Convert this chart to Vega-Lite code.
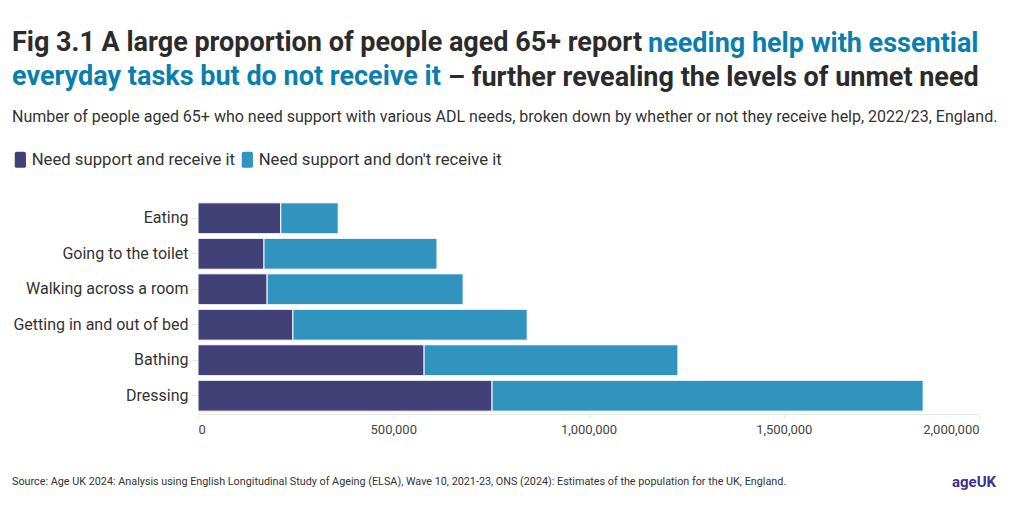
{
  "$schema": "https://vega.github.io/schema/vega-lite/v6.json",
  "background": "white",
  "padding": {"left": 12, "top": 29, "right": 6, "bottom": 5},
  "config": {
    "view": {"stroke": null},
    "font": "Roboto",
    "title": {"anchor": "start", "frame": "bounds"},
    "concat": {"spacing": 0}
  },
  "datasets": {
    "adl": [
      {"activity": "Eating", "status": "Need support and receive it", "value": 212000, "ord": 1},
      {"activity": "Eating", "status": "Need support and don't receive it", "value": 147000, "ord": 2},
      {"activity": "Going to the toilet", "status": "Need support and receive it", "value": 169000, "ord": 1},
      {"activity": "Going to the toilet", "status": "Need support and don't receive it", "value": 443000, "ord": 2},
      {"activity": "Walking across a room", "status": "Need support and receive it", "value": 177000, "ord": 1},
      {"activity": "Walking across a room", "status": "Need support and don't receive it", "value": 502000, "ord": 2},
      {"activity": "Getting in and out of bed", "status": "Need support and receive it", "value": 243000, "ord": 1},
      {"activity": "Getting in and out of bed", "status": "Need support and don't receive it", "value": 600000, "ord": 2},
      {"activity": "Bathing", "status": "Need support and receive it", "value": 579000, "ord": 1},
      {"activity": "Bathing", "status": "Need support and don't receive it", "value": 650000, "ord": 2},
      {"activity": "Dressing", "status": "Need support and receive it", "value": 753000, "ord": 1},
      {"activity": "Dressing", "status": "Need support and don't receive it", "value": 1104000, "ord": 2}
    ]
  },
  "bounds": "flush",
  "vconcat": [
    {"width": 1, "height": 0.01, "data": {"values": []}, "mark": "point",
     "title": {"text": "Fig 3.1 A large proportion of people aged 65+ report", "color": "#2b2b2b", "fontSize": 27, "fontWeight": "bold", "offset": 0, "dx": -186}},
    {"width": 1, "height": 33, "data": {"values": []}, "mark": "point",
     "title": {"text": "needing help with essential", "color": "#0a7fae", "fontSize": 27, "fontWeight": "bold", "offset": 0, "dx": 450}},
    {"width": 1, "height": 0.01, "data": {"values": []}, "mark": "point",
     "title": {"text": "everyday tasks but do not receive it", "color": "#0a7fae", "fontSize": 27, "fontWeight": "bold", "offset": 0, "dx": -186}},
    {"width": 1, "height": 108, "data": {"values": []}, "mark": "point",
     "title": {"text": "– further revealing the levels of unmet need", "color": "#2b2b2b", "fontSize": 27, "fontWeight": "bold", "offset": 0, "dx": 250}},
    {
      "width": 781,
      "height": 214,
      "data": {"name": "adl"},
      "title": {"text": "Number of people aged 65+ who need support with various ADL needs, broken down by whether or not they receive help, 2022/23, England.", "fontSize": 16, "fontWeight": "normal", "color": "#333333", "offset": 75, "dx": -186, "frame": "group"},
      "mark": {"type": "bar", "stroke": "white", "strokeWidth": 1},
      "encoding": {
        "y": {
          "field": "activity", "type": "nominal",
          "sort": ["Eating", "Going to the toilet", "Walking across a room", "Getting in and out of bed", "Bathing", "Dressing"],
          "scale": {"paddingInner": 0.13, "paddingOuter": 0.08},
          "axis": {"title": null, "domain": false, "ticks": true, "tickColor": "#e3e3e3", "tickSize": 6, "labelFontSize": 16, "labelColor": "#333333", "labelPadding": 4}
        },
        "x": {
          "field": "value", "type": "quantitative", "stack": "zero",
          "scale": {"domain": [0, 2000000]},
          "axis": {"title": null, "values": [0, 500000, 1000000, 1500000, 2000000], "format": ",d", "grid": false, "domainColor": "#e8e8e8", "tickColor": "#e8e8e8", "tickSize": 4, "labelFontSize": 13, "labelColor": "#444444", "labelPadding": 5}
        },
        "color": {
          "field": "status", "type": "nominal",
          "scale": {"domain": ["Need support and receive it", "Need support and don't receive it"], "range": ["#414178", "#3194bf"]},
          "legend": {
            "title": null, "orient": "none", "legendX": -186, "legendY": 94, "direction": "horizontal",
            "labelFontSize": 16.7, "labelColor": "#333333", "labelLimit": 400,
            "symbolType": "M -0.7 -0.8 Q -0.7 -1 -0.45 -1 L 0.45 -1 Q 0.7 -1 0.7 -0.8 L 0.7 0.8 Q 0.7 1 0.45 1 L -0.45 1 Q -0.7 1 -0.7 0.8 Z",
            "symbolSize": 256, "symbolOpacity": 1, "symbolStrokeWidth": 0, "columnPadding": 4, "labelOffset": 3,
            "encode": {"symbols": {"fill": {"value": {"expr": "datum.value === 'Need support and receive it' ? '#1a1a6a' : '#0084bd'"}}}}
          }
        },
        "order": {"field": "ord"}
      }
    },
    {"width": 1, "height": 0.01, "data": {"values": []}, "mark": "point",
     "title": {"text": "Source: Age UK 2024: Analysis using English Longitudinal Study of Ageing (ELSA), Wave 10, 2021-23, ONS (2024): Estimates of the population for the UK, England.", "orient": "bottom", "color": "#333333", "fontSize": 10.8, "fontWeight": "normal", "offset": 62, "dx": -186}},
    {"width": 1, "height": 0.01, "data": {"values": []}, "mark": "point",
     "title": {"text": "ageUK", "orient": "bottom", "color": "#40318f", "fontSize": 15, "fontWeight": "bold", "offset": 60, "dx": 754}}
  ]
}
